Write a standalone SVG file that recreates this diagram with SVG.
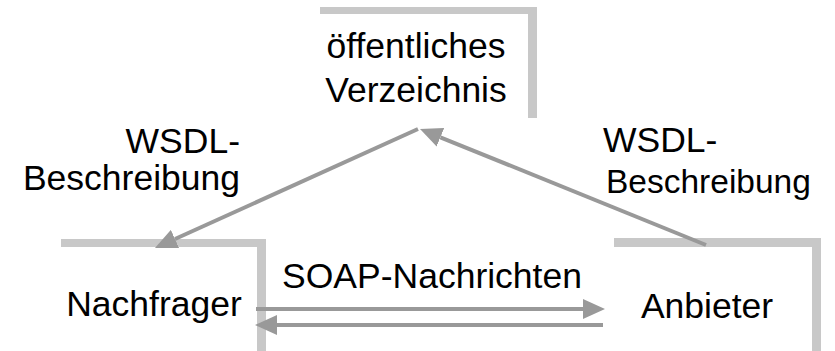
<svg xmlns="http://www.w3.org/2000/svg" width="835" height="351" viewBox="0 0 835 351">
<style>
.bar{fill:#c8c8c8;}
.t{font-family:"Liberation Sans",Arial,sans-serif;font-size:35.5px;fill:#000;}
.c{stroke:#999999;stroke-width:4;fill:none;}
</style>
<defs>
<marker id="ah" markerUnits="userSpaceOnUse" markerWidth="22" markerHeight="20" refX="0" refY="10" orient="auto" viewBox="0 0 22 20">
<path d="M0,0 L22,10 L0,20 Z" fill="#999999"/>
</marker>
</defs>
<rect width="835" height="351" fill="#fff"/>
<g id="verzeichnis">
<rect class="bar" x="320" y="7" width="217" height="7"/>
<rect class="bar" x="528" y="7" width="9" height="111"/>
<text class="t" x="416" y="58" text-anchor="middle">öffentliches</text>
<text class="t" x="416" y="102" text-anchor="middle">Verzeichnis</text>
</g>
<g id="nachfrager">
<rect class="bar" x="61" y="239" width="205" height="8"/>
<rect class="bar" x="257" y="239" width="9" height="112"/>
<text class="t" x="154" y="316" text-anchor="middle">Nachfrager</text>
</g>
<g id="anbieter">
<rect class="bar" x="614" y="238" width="207" height="9"/>
<rect class="bar" x="812" y="238" width="9" height="113"/>
<text class="t" x="707" y="318" text-anchor="middle">Anbieter</text>
</g>
<g id="connectors">
<line class="c" x1="418" y1="129" x2="175" y2="239" marker-end="url(#ah)"/>
<line class="c" x1="706" y1="245" x2="440.4" y2="137.3" marker-end="url(#ah)"/>
<line class="c" x1="256" y1="309" x2="583" y2="309" marker-end="url(#ah)"/>
<line class="c" x1="603" y1="325" x2="277" y2="325" marker-end="url(#ah)"/>
</g>
<g id="labels">
<text class="t" x="240" y="153" text-anchor="end">WSDL-</text>
<text class="t" x="240" y="190" text-anchor="end">Beschreibung</text>
<text class="t" x="603" y="152">WSDL-</text>
<text class="t" x="606" y="193" style="font-size:33.5px">Beschreibung</text>
<text class="t" x="432" y="288" text-anchor="middle">SOAP-Nachrichten</text>
</g>
</svg>
